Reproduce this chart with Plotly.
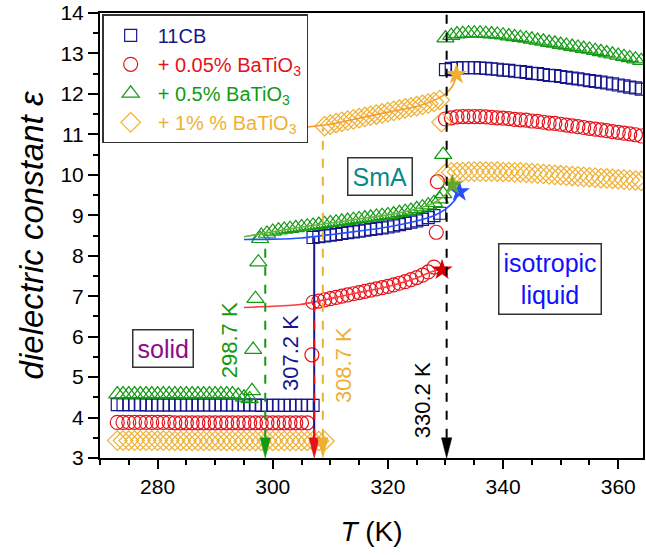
import plotly.graph_objects as go

# ---------------- data ----------------
# 11CB (pure)
cb_solid_T = list(range(273, 308))
cb_solid_eps = [4.32, 4.32, 4.32, 4.32, 4.32, 4.31, 4.31, 4.31, 4.31, 4.31,
                4.31, 4.31, 4.31, 4.31, 4.31, 4.31, 4.31, 4.31, 4.31, 4.31,
                4.31, 4.31, 4.31, 4.31, 4.31, 4.30, 4.30, 4.30, 4.30, 4.30,
                4.30, 4.30, 4.30, 4.30, 4.30]
cb_sma_T = list(range(307, 330))
cb_sma_eps = [8.45, 8.47, 8.49, 8.51, 8.53, 8.55, 8.57, 8.59, 8.61, 8.63, 8.65,
              8.67, 8.69, 8.71, 8.74, 8.77, 8.80, 8.83, 8.86, 8.90, 8.94, 8.99, 9.05]
cb_iso_T = list(range(330, 365))
cb_iso_eps = [12.60, 12.63, 12.64, 12.65, 12.65, 12.65, 12.64, 12.63, 12.62, 12.61,
              12.59, 12.58, 12.56, 12.55, 12.53, 12.51, 12.50, 12.48, 12.46, 12.45,
              12.43, 12.41, 12.39, 12.37, 12.35, 12.33, 12.31, 12.29, 12.27, 12.25,
              12.22, 12.20, 12.17, 12.15, 12.12]

# + 0.05% BaTiO3
r_solid_T = list(range(273, 307))
r_solid_eps = [3.88, 3.88, 3.88, 3.88, 3.88, 3.88, 3.88, 3.88, 3.88, 3.88,
               3.87, 3.87, 3.87, 3.87, 3.87, 3.87, 3.87, 3.87, 3.87, 3.87,
               3.87, 3.87, 3.87, 3.87, 3.87, 3.87, 3.87, 3.87, 3.87, 3.87,
               3.87, 3.87, 3.87, 3.87]
r_trans_T = [306.8, 328.4, 328.6]
r_trans_eps = [5.55, 8.58, 9.83]
r_sma_T = list(range(307, 329))
r_sma_eps = [6.85, 6.88, 6.91, 6.94, 6.97, 7.00, 7.03, 7.06, 7.09, 7.12, 7.15,
             7.18, 7.21, 7.24, 7.28, 7.32, 7.36, 7.41, 7.46, 7.52, 7.60, 7.72]
r_iso_T = list(range(330, 365))
r_iso_eps = [11.38, 11.41, 11.43, 11.44, 11.44, 11.44, 11.44, 11.43, 11.42, 11.41,
             11.40, 11.39, 11.37, 11.36, 11.35, 11.33, 11.32, 11.30, 11.28, 11.27,
             11.25, 11.23, 11.21, 11.19, 11.17, 11.15, 11.13, 11.11, 11.09, 11.07,
             11.05, 11.03, 11.01, 10.99, 10.96]

# + 0.5% BaTiO3
g_solid_T = list(range(273, 297))
g_solid_eps = [4.58, 4.58, 4.58, 4.58, 4.58, 4.58, 4.58, 4.58, 4.58, 4.58,
               4.58, 4.58, 4.58, 4.58, 4.58, 4.58, 4.58, 4.58, 4.58, 4.58,
               4.58, 4.55, 4.50, 4.46]
g_trans_T = [296.4, 296.6, 297.0, 297.5, 297.8, 329.6, 329.6]
g_trans_eps = [4.66, 5.68, 6.94, 7.84, 8.42, 9.53, 10.50]
g_sma_T = list(range(298, 330))
g_sma_eps = [8.50, 8.55, 8.60, 8.63, 8.65, 8.67, 8.69, 8.71, 8.73, 8.75, 8.77,
             8.79, 8.81, 8.83, 8.85, 8.87, 8.89, 8.91, 8.93, 8.95, 8.97, 8.99,
             9.01, 9.03, 9.06, 9.09, 9.12, 9.16, 9.20, 9.25, 9.31, 9.40]
g_iso_T = list(range(330, 365))
g_iso_eps = [13.38, 13.44, 13.48, 13.49, 13.50, 13.50, 13.50, 13.49, 13.48, 13.47,
             13.45, 13.43, 13.41, 13.39, 13.37, 13.35, 13.32, 13.30, 13.27, 13.25,
             13.22, 13.20, 13.17, 13.15, 13.12, 13.10, 13.07, 13.04, 13.01, 12.98,
             12.95, 12.92, 12.89, 12.86, 12.82]

# + 1% BaTiO3
o_solid_T = list(range(273, 310))
o_solid_eps = [3.43, 3.43, 3.43, 3.43, 3.43, 3.43, 3.43, 3.43, 3.43, 3.43,
               3.42, 3.42, 3.42, 3.42, 3.42, 3.42, 3.42, 3.42, 3.42, 3.42,
               3.42, 3.42, 3.42, 3.42, 3.42, 3.42, 3.42, 3.42, 3.42, 3.42,
               3.42, 3.42, 3.42, 3.42, 3.42, 3.42, 3.42]
o_trans_T = [329.3, 330.0]
o_trans_eps = [11.30, 10.03]
o_sma_T = list(range(309, 330))
o_sma_eps = [11.20, 11.24, 11.28, 11.31, 11.34, 11.37, 11.40, 11.43, 11.46, 11.49,
             11.52, 11.55, 11.58, 11.61, 11.64, 11.67, 11.70, 11.73, 11.76, 11.80, 11.85]
o_iso_T = list(range(331, 365))
o_iso_eps = [10.06, 10.07, 10.07, 10.08, 10.08, 10.08, 10.08, 10.08, 10.08,
             10.07, 10.07, 10.06, 10.06, 10.05, 10.04, 10.03, 10.02, 10.01, 10.00,
             9.99, 9.98, 9.97, 9.96, 9.95, 9.94, 9.93, 9.92, 9.91, 9.90,
             9.89, 9.88, 9.87, 9.86, 9.85]

# fit curves in the SmA phase
cb_fit_T = [295, 300, 305, 310, 315, 320, 325, 328, 330, 331.5, 332.4]
cb_fit_eps = [8.40, 8.41, 8.44, 8.52, 8.61, 8.71, 8.86, 8.99, 9.15, 9.35, 9.58]
g_fit_T = [295, 300, 305, 310, 315, 320, 325, 328, 329.5, 330.5, 331.2]
g_fit_eps = [8.47, 8.59, 8.71, 8.81, 8.91, 9.01, 9.16, 9.31, 9.45, 9.58, 9.75]
r_fit_T = [295, 300, 305, 310, 315, 320, 325, 327, 328.5, 329.4]
r_fit_eps = [6.72, 6.75, 6.80, 6.94, 7.09, 7.24, 7.45, 7.57, 7.64, 7.66]
o_fit_T = [305, 310, 315, 320, 325, 328, 330, 331, 331.5, 331.9]
o_fit_eps = [11.17, 11.25, 11.40, 11.55, 11.69, 11.84, 12.00, 12.15, 12.28, 12.46]

# stars (extrapolated transition points): 11CB, 0.5%, 0.05%, 1%
star_T = [332.4, 331.2, 329.4, 331.9]
star_eps = [9.58, 9.75, 7.65, 12.48]

# transition temperatures (green, navy, orange, black)
trans_T = [298.7, 307.2, 308.7, 330.2]
trans_top = [8.30, 8.45, 11.15, 14.0]
trans_labels = ["298.7 K", "307.2 K", "308.7 K", "330.2 K"]
red_trans_top = 6.85
axis_bottom = 3.0

# ---------------- styling ----------------
NAVY = "#16168f"
RED = "#e5121b"
GREEN = "#139a13"
ORANGE = "#efb032"
FONT = '"Liberation Sans", Arial, sans-serif'
HEAD_LEN = 0.5    # arrow-head length (y units)
HEAD_HALF = 0.9   # arrow-head half width (x units)

fig = go.Figure()


def series(name, color, symbol, size, parts):
    xs, ys = [], []
    for T, e in parts:
        xs += list(T)
        ys += list(e)
    fig.add_trace(go.Scatter(
        x=xs, y=ys, mode="markers",
        name='<span style="color:%s">%s</span>' % (color, name),
        marker=dict(symbol=symbol, size=size, color=color, line=dict(width=1.2)),
    ))


series("11CB", NAVY, "square-open", 12,
       [(cb_solid_T, cb_solid_eps), (cb_sma_T, cb_sma_eps), (cb_iso_T, cb_iso_eps)])
series("+ 0.05% BaTiO<sub>3</sub>", RED, "circle-open", 14,
       [(r_solid_T, r_solid_eps), (r_trans_T, r_trans_eps), (r_sma_T, r_sma_eps), (r_iso_T, r_iso_eps)])
series("+ 0.5% BaTiO<sub>3</sub>", GREEN, "triangle-up-open", 15,
       [(g_solid_T, g_solid_eps), (g_trans_T, g_trans_eps), (g_sma_T, g_sma_eps), (g_iso_T, g_iso_eps)])
series("+ 1% % BaTiO<sub>3</sub>", ORANGE, "diamond-open", 15,
       [(o_solid_T, o_solid_eps), (o_trans_T, o_trans_eps), (o_sma_T, o_sma_eps), (o_iso_T, o_iso_eps)])

for T, e, c in [(cb_fit_T, cb_fit_eps, "#2050ff"), (g_fit_T, g_fit_eps, "#6cb33a"),
                (r_fit_T, r_fit_eps, "#ff3b3b"), (o_fit_T, o_fit_eps, "#f59a35")]:
    fig.add_trace(go.Scatter(x=T, y=e, mode="lines", showlegend=False,
                             line=dict(color=c, width=1.6, shape="spline", smoothing=0.6)))

fig.add_trace(go.Scatter(x=star_T, y=star_eps, mode="markers", showlegend=False,
                         marker=dict(symbol="star", size=16,
                                     color=["#2a4dff", "#5fa82a", "#d90000", "#efb030"],
                                     line=dict(width=0))))

# vertical transition lines
line_cols = [GREEN, NAVY, ORANGE, "black"]
line_dash = ["dash", "solid", "dash", "dash"]
for T, top, c, d in zip(trans_T, trans_top, line_cols, line_dash):
    fig.add_shape(type="line", x0=T, x1=T, y0=axis_bottom + HEAD_LEN, y1=top,
                  xref="x", yref="y", line=dict(color=c, width=2, dash=d))
fig.add_shape(type="line", x0=trans_T[1], x1=trans_T[1], y0=axis_bottom + HEAD_LEN,
              y1=red_trans_top, xref="x", yref="y", line=dict(color=RED, width=2, dash="dash"))

# arrow heads (narrow filled triangles with the tip on the T axis)
head_cols = [GREEN, RED, ORANGE, "black"]
for T, c in zip(trans_T, head_cols):
    yb = axis_bottom + HEAD_LEN
    fig.add_shape(type="path", xref="x", yref="y",
                  path="M %g,%g L %g,%g L %g,%g Z" % (T - HEAD_HALF, yb, T + HEAD_HALF, yb,
                                                      T, axis_bottom),
                  fillcolor=c, line=dict(color=c, width=0.5))

label_pos = [(292.4, 5.91), (303.2, 5.60), (312.4, 5.30), (326.0, 4.44)]
label_cols = [GREEN, NAVY, ORANGE, "black"]
for (x, y), t, c in zip(label_pos, trans_labels, label_cols):
    fig.add_annotation(x=x, y=y, text=t, textangle=-90, showarrow=False,
                       font=dict(size=22, color=c, family=FONT))

box = dict(showarrow=False, bordercolor="#333333", borderwidth=1.5, borderpad=4,
           bgcolor="white")
fig.add_annotation(x=318.6, y=9.96, text="SmA", font=dict(size=25, color="#0a8a8a", family=FONT), **box)
fig.add_annotation(x=281.0, y=5.70, text="solid", font=dict(size=25, color="#8b0a8b", family=FONT), **box)
fig.add_annotation(x=348.2, y=7.43, text="isotropic<br>liquid",
                   font=dict(size=25, color="#1010ff", family=FONT), **box)

axis_common = dict(showgrid=False, zeroline=False, showline=True, linecolor="black",
                   linewidth=2, mirror=True, ticks="outside", tickwidth=2,
                   tickcolor="black", tickfont=dict(size=21, family=FONT, color="black"))

fig.update_xaxes(range=[270, 364.3], tickvals=[280, 300, 320, 340, 360], ticklen=9,
                 minor=dict(dtick=5, tick0=270, ticks="outside", ticklen=5, tickwidth=1.5,
                            tickcolor="black"),
                 title=dict(text="<i>T</i> (K)", font=dict(size=28, family=FONT), standoff=24),
                 **axis_common)
fig.update_yaxes(range=[3, 14], dtick=1, ticklen=10,
                 minor=dict(dtick=0.5, ticks="outside", ticklen=5, tickwidth=1.5,
                            tickcolor="black"),
                 title=dict(text="<i>dielectric constant ε</i>", font=dict(size=33, family=FONT),
                            standoff=7),
                 **axis_common)

fig.update_layout(
    width=646, height=555,
    margin=dict(l=100, r=3, t=13, b=97, autoexpand=False),
    plot_bgcolor="white", paper_bgcolor="white",
    font=dict(family=FONT, color="black"),
    legend=dict(x=0.004, y=0.997, xanchor="left", yanchor="top",
                bgcolor="white", bordercolor="#333333", borderwidth=1.5,
                font=dict(size=20, family=FONT), tracegroupgap=0, itemwidth=44),
)

fig.write_html("out.html", config={"displayModeBar": False},
               post_script="document.body.style.margin='0px';document.body.style.padding='0px';")
